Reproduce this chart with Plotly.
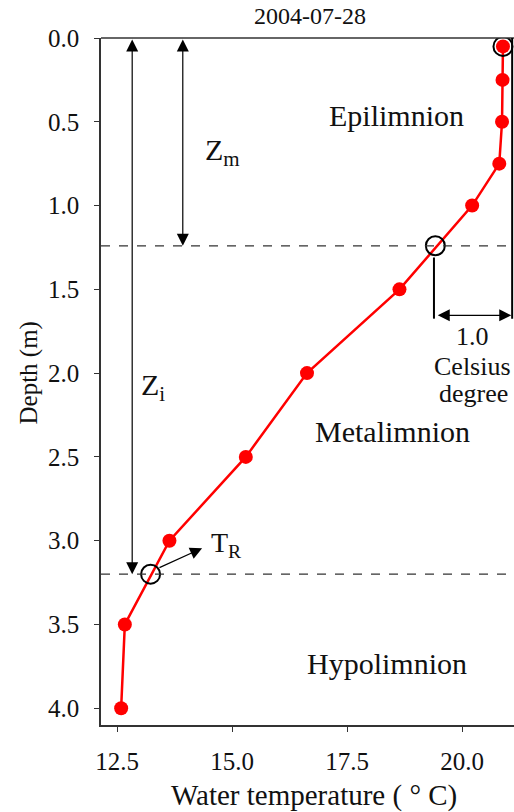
import plotly.graph_objects as go

# ---- data ----
depth = [0.05, 0.25, 0.5, 0.75, 1.0, 1.5, 2.0, 2.5, 3.0, 3.5, 4.0]
temp = [20.89, 20.88, 20.87, 20.81, 20.22, 18.64, 16.63, 15.30, 13.64, 12.67, 12.59]

# characteristic points (surface, mixed layer depth, thermocline reference)
key_temp = [20.89, 19.42, 13.23]
key_depth = [0.05, 1.24, 3.2]

z_m = 1.24
z_i = 3.2
title = "2004-07-28"
x_ticks = [12.5, 15.0, 17.5, 20.0]
y_ticks = [0.0, 0.5, 1.0, 1.5, 2.0, 2.5, 3.0, 3.5, 4.0]

FONT = "Liberation Serif"

fig = go.Figure()
fig.add_trace(go.Scatter(
    x=temp, y=depth, mode="lines+markers",
    line=dict(color="#ff0000", width=2.5),
    marker=dict(color="#ff0000", size=14),
    showlegend=False, hoverinfo="skip"))
fig.add_trace(go.Scatter(
    x=key_temp, y=key_depth, mode="markers",
    marker=dict(symbol="circle-open", color="black", size=19, line=dict(width=2)),
    showlegend=False, hoverinfo="skip"))

shapes = []
# dashed layer boundaries
for d in (z_m, z_i):
    shapes.append(dict(type="line", xref="paper", x0=0, x1=1, yref="y", y0=d, y1=d,
                       line=dict(color="#333333", width=1.3, dash="dash")))
# top spine
shapes.append(dict(type="line", xref="paper", x0=0, x1=1, yref="paper", y0=1, y1=1,
                   line=dict(color="#333333", width=1.5)))
# 1 degree bracket
bracket_depth = 1.655
shapes.append(dict(type="line", x0=key_temp[1] - 0.03, x1=key_temp[1] - 0.03,
                   y0=z_m + 0.07, y1=bracket_depth + 0.02,
                   line=dict(color="black", width=2)))
shapes.append(dict(type="line", x0=21.09, x1=21.09, y0=0, y1=bracket_depth + 0.02,
                   line=dict(color="black", width=2)))

ann = []
def arrow(x, y, ax, ay, both=True):
    ann.append(dict(x=x, y=y, ax=ax, ay=ay, xref="x", yref="y", axref="x", ayref="y",
                    text="", showarrow=True, arrowhead=2, arrowsize=2, arrowwidth=1.2,
                    arrowcolor="black", arrowside="end+start" if both else "end",
                    standoff=0, startstandoff=0))

arrow(12.83, z_i, 12.83, 0.0)
arrow(13.93, z_m, 13.93, 0.0)
arrow(14.35, 3.045, 13.39, 3.165, both=False)
arrow(21.07, bracket_depth, key_temp[1] + 0.02, bracket_depth)

def label(x, y, text, size, xanchor="center"):
    ann.append(dict(x=x, y=y, xref="x", yref="y", text=text, showarrow=False,
                    xanchor=xanchor, yanchor="middle",
                    font=dict(family=FONT, size=size, color="#111111")))

label(14.38, 0.68, "Z<sub>m</sub>", 30, "left")
label(12.98, 2.08, "Z<sub>i</sub>", 30, "left")
label(14.5, 3.02, "T<sub>R</sub>", 28, "left")
label(18.57, 0.46, "Epilimnion", 30)
label(18.48, 2.35, "Metalimnion", 30)
label(18.37, 3.73, "Hypolimnion", 30)
label(20.22, 1.78, "1.0", 26)
label(20.22, 1.96, "Celsius", 26)
label(20.25, 2.12, "degree", 26)

# axis titles
ann.append(dict(xref="paper", x=0, xshift=-73, yref="paper", y=0.5, yshift=8,
                text="Depth (m)", showarrow=False, textangle=-90,
                xanchor="center", yanchor="middle",
                font=dict(family=FONT, size=25, color="#111111")))
ann.append(dict(xref="paper", x=0.5, xshift=6, yref="paper", y=0, yshift=-70,
                text="Water temperature ( ° C)", showarrow=False,
                xanchor="center", yanchor="middle",
                font=dict(family=FONT, size=29, color="#111111")))

fig.update_layout(
    width=514, height=812,
    margin=dict(l=101, r=0, t=38, b=87),
    plot_bgcolor="white", paper_bgcolor="white",
    title=dict(text=title, x=0.506, xref="paper", y=1 - 16 / 812, yref="container",
               xanchor="center", yanchor="middle",
               font=dict(family=FONT, size=24, color="#111111")),
    shapes=shapes, annotations=ann,
    xaxis=dict(range=[12.152, 21.13], tickvals=x_ticks,
               ticktext=[f"{v:.1f}" for v in x_ticks],
               showgrid=False, zeroline=False, showline=True, linecolor="#333333",
               linewidth=1.5, ticks="outside", ticklen=5, tickwidth=1.3,
               tickcolor="#333333", ticklabelstandoff=8,
               tickfont=dict(family=FONT, size=25, color="#111111")),
    yaxis=dict(range=[4.1, 0], tickvals=y_ticks,
               ticktext=[f"{v:.1f}" for v in y_ticks],
               showgrid=False, zeroline=False, showline=True, linecolor="#333333",
               linewidth=1.5, ticks="outside", ticklen=5, tickwidth=1.3,
               tickcolor="#333333", ticklabelstandoff=10,
               tickfont=dict(family=FONT, size=25, color="#111111")),
)

# remove the default page margin so the 514x812 figure fills the window exactly
fig.write_html(
    "out.html",
    config={"displayModeBar": False},
    post_script=("document.documentElement.style.margin='0';"
                 "document.body.style.margin='0';"
                 "document.documentElement.style.overflow='hidden';"
                 "document.body.style.overflow='hidden';"),
)
